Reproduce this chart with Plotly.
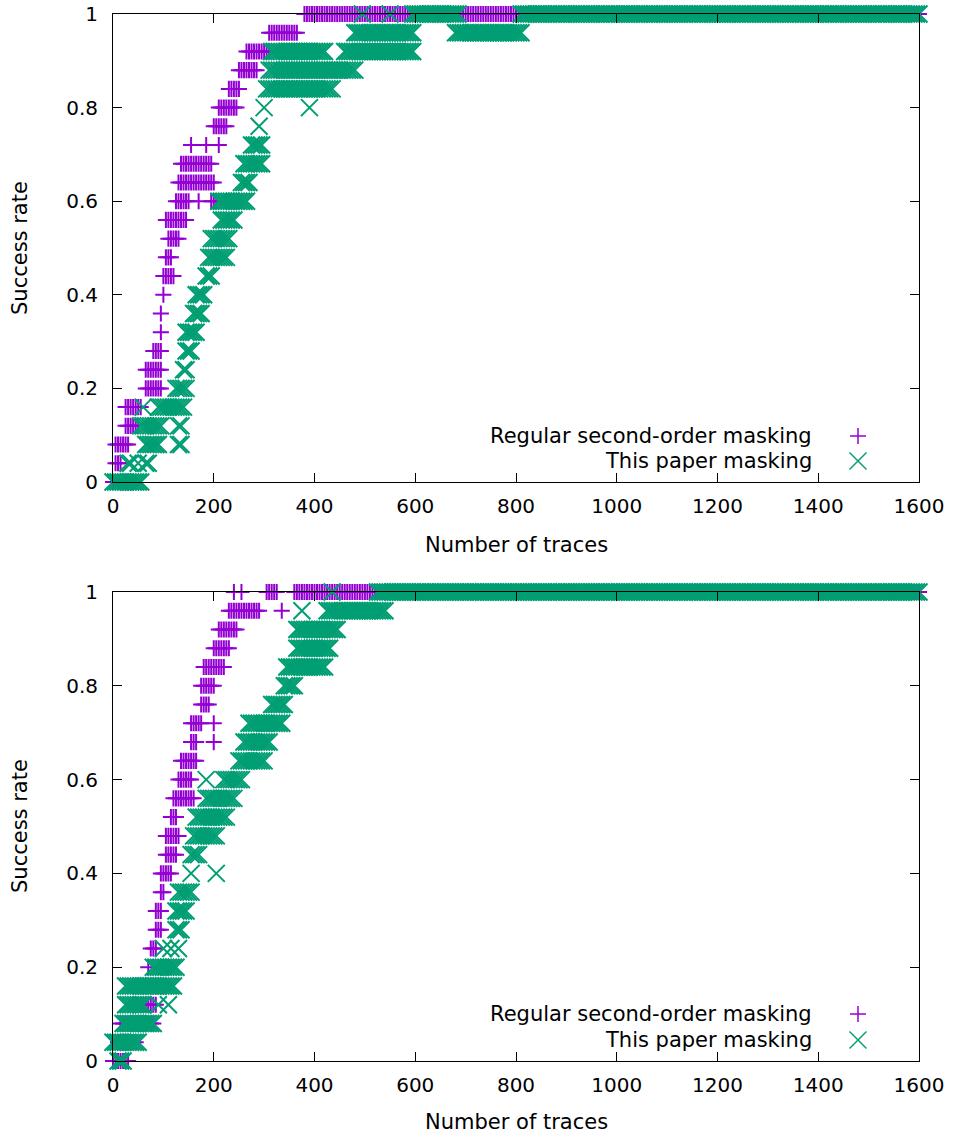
import plotly.graph_objects as go

STEP = 5  # sampling interval (number of traces) between two attack runs

# ---------------- top panel ----------------
# Regular second-order masking: success rate, first / last trace count of each run of points
top_reg_rate = [0.00, 0.04, 0.08, 0.12, 0.16, 0.20, 0.24, 0.28, 0.32, 0.36, 0.40, 0.44, 0.48,
                0.52, 0.56, 0.60, 0.60, 0.60, 0.64, 0.68, 0.72, 0.72, 0.72, 0.76, 0.80, 0.84,
                0.88, 0.92, 0.92, 0.92, 0.96, 1.00]
top_reg_start = [0, 5, 5, 25, 25, 65, 65, 80, 95, 95, 100, 100, 105,
                 110, 105, 125, 170, 195, 130, 135, 155, 185, 210, 200, 210, 230,
                 250, 265, 340, 360, 310, 380]
top_reg_end = [0, 15, 30, 50, 55, 95, 95, 95, 95, 95, 100, 120, 115,
               130, 145, 150, 170, 205, 200, 195, 155, 185, 210, 225, 245, 250,
               285, 310, 340, 360, 365, 1600]

# This paper masking
top_new_rate = [0.00, 0.04, 0.04, 0.04, 0.08, 0.08, 0.12, 0.12, 0.16, 0.16, 0.20, 0.24, 0.28,
                0.32, 0.36, 0.40, 0.44, 0.48, 0.52, 0.56, 0.60, 0.64, 0.68, 0.72, 0.76, 0.80,
                0.80, 0.84, 0.88, 0.92, 0.92, 0.96, 0.96, 1.00, 1.00, 1.00, 1.00]
top_new_start = [0, 30, 50, 65, 65, 130, 55, 130, 60, 90, 125, 140, 145,
                 145, 160, 165, 185, 190, 195, 215, 210, 255, 260, 275, 290, 300,
                 390, 305, 310, 315, 460, 480, 680, 495, 550, 595, 810]
top_new_end = [55, 35, 50, 70, 90, 135, 95, 135, 60, 140, 145, 145, 155,
               165, 175, 180, 195, 225, 230, 240, 265, 270, 295, 295, 290, 300,
               390, 435, 480, 420, 595, 595, 810, 495, 550, 685, 1600]

# ---------------- bottom panel ----------------
bot_reg_rate = [0.00, 0.04, 0.08, 0.12, 0.16, 0.20, 0.24, 0.28, 0.32, 0.36, 0.40, 0.44, 0.48,
                0.52, 0.56, 0.60, 0.64, 0.68, 0.68, 0.72, 0.72, 0.76, 0.80, 0.84, 0.88,
                0.92, 0.96, 0.96, 1.00, 1.00, 1.00, 1.00]
bot_reg_start = [0, 10, 15, 50, 50, 70, 75, 85, 85, 95, 95, 105, 105,
                 115, 120, 130, 135, 155, 200, 155, 200, 175, 175, 180, 200,
                 210, 230, 335, 240, 255, 305, 360]
bot_reg_end = [30, 45, 80, 85, 75, 70, 85, 95, 95, 100, 115, 125, 130,
               125, 160, 155, 165, 165, 200, 175, 200, 190, 200, 220, 230,
               245, 290, 335, 240, 255, 325, 1600]

bot_new_rate = [0.00, 0.04, 0.08, 0.12, 0.12, 0.12, 0.16, 0.20, 0.24, 0.24, 0.24, 0.28, 0.32,
                0.36, 0.40, 0.40, 0.44, 0.48, 0.52, 0.56, 0.60, 0.60, 0.64, 0.68, 0.72,
                0.76, 0.80, 0.84, 0.88, 0.92, 0.96, 0.96, 1.00, 1.00]
bot_new_start = [10, 0, 20, 25, 90, 110, 25, 80, 100, 115, 130, 125, 125,
                 130, 155, 205, 155, 160, 165, 185, 185, 220, 250, 260, 270,
                 315, 340, 345, 365, 365, 375, 425, 435, 525]
bot_new_end = [20, 50, 80, 60, 90, 110, 120, 125, 100, 115, 130, 135, 145,
               155, 155, 205, 170, 205, 225, 240, 185, 255, 300, 310, 335,
               340, 360, 420, 430, 445, 375, 540, 435, 1600]

X_TICKS = [0, 200, 400, 600, 800, 1000, 1200, 1400, 1600]
Y_TICKS = [0, 0.2, 0.4, 0.6, 0.8, 1.0]
Y_TICK_TEXT = ["0", "0.2", "0.4", "0.6", "0.8", "1"]
LEGEND_NAMES = ["Regular second-order masking", "This paper masking"]

PURPLE = "#9400D3"
GREEN = "#009E73"
FONT = "DejaVu Sans"


def expand(rates, starts, ends):
    xs, ys = [], []
    for r, a, b in zip(rates, starts, ends):
        for t in range(a, b + 1, STEP):
            xs.append(t)
            ys.append(r)
    return xs, ys


fig = go.Figure()

panels = [
    ("x", "y", (top_reg_rate, top_reg_start, top_reg_end), (top_new_rate, top_new_start, top_new_end)),
    ("x2", "y2", (bot_reg_rate, bot_reg_start, bot_reg_end), (bot_new_rate, bot_new_start, bot_new_end)),
]

for xa, ya, reg, new in panels:
    xr, yr = expand(*reg)
    fig.add_trace(go.Scatter(
        x=xr, y=yr, mode="markers", xaxis=xa, yaxis=ya, name=LEGEND_NAMES[0],
        showlegend=False, cliponaxis=False,
        marker=dict(symbol="cross-thin", size=11.5, color=PURPLE,
                    line=dict(color=PURPLE, width=2)),
    ))
    xn, yn = expand(*new)
    fig.add_trace(go.Scatter(
        x=xn, y=yn, mode="markers", xaxis=xa, yaxis=ya, name=LEGEND_NAMES[1],
        showlegend=False, cliponaxis=False,
        marker=dict(symbol="x-thin", size=17, color=GREEN,
                    line=dict(color=GREEN, width=2)),
    ))

# The page body margin is removed (see post_script), so page pixels = figure pixels.
W, H = 954, 1139
L, R, T, B = 113, 954 - 919, 14, 1139 - 1061
PW, PH = W - L - R, H - T - B


def py2paper(py):
    return (H - B - py) / PH


def px2paper(px):
    return (px - L) / PW


axis_common = dict(
    showgrid=False, zeroline=False, showline=True, linecolor="black", linewidth=1,
    mirror="ticks", ticks="inside", ticklen=9, tickwidth=1, tickcolor="black",
    automargin=False, ticklabeloverflow="allow",
    tickfont=dict(family=FONT, size=20, color="black"),
)

top_dom = [py2paper(482), py2paper(14)]
bot_dom = [py2paper(1061), py2paper(592)]

fig.update_layout(
    width=W, height=H,
    margin=dict(l=L, r=R, t=T, b=B, autoexpand=False),
    paper_bgcolor="white", plot_bgcolor="white",
    showlegend=False,
    xaxis=dict(domain=[0, 1], range=[0, 1600], tickvals=X_TICKS, anchor="y",
               ticklabelstandoff=6, **axis_common),
    yaxis=dict(domain=top_dom, range=[0, 1], tickvals=Y_TICKS, ticktext=Y_TICK_TEXT,
               anchor="x", ticklabelstandoff=10, **axis_common),
    xaxis2=dict(domain=[0, 1], range=[0, 1600], tickvals=X_TICKS, anchor="y2",
                ticklabelstandoff=6, **axis_common),
    yaxis2=dict(domain=bot_dom, range=[0, 1], tickvals=Y_TICKS, ticktext=Y_TICK_TEXT,
                anchor="x2", ticklabelstandoff=10, **axis_common),
)

LABEL_FONT = dict(family=FONT, size=21, color="black")

annotations = []
shapes = []
for (ylab_py, xlab_py, leg_py) in [(248, 545, (436, 461)), (826, 1122, (1014, 1040))]:
    annotations.append(dict(text="Success rate", xref="paper", yref="paper",
                            x=px2paper(20), y=py2paper(ylab_py), textangle=-90,
                            xanchor="center", yanchor="middle", showarrow=False,
                            font=LABEL_FONT))
    annotations.append(dict(text="Number of traces", xref="paper", yref="paper",
                            x=px2paper(516), y=py2paper(xlab_py),
                            xanchor="center", yanchor="middle", showarrow=False,
                            font=LABEL_FONT))
    for name, lpy in zip(LEGEND_NAMES, leg_py):
        annotations.append(dict(text=name, xref="paper", yref="paper",
                                x=px2paper(814), y=py2paper(lpy),
                                xanchor="right", yanchor="middle", showarrow=False,
                                font=LABEL_FONT))
    # legend samples
    ax, ay = px2paper(858), py2paper(leg_py[0])
    shapes.append(dict(type="line", xref="paper", yref="paper", xsizemode="pixel", ysizemode="pixel",
                       xanchor=ax, yanchor=ay, x0=-8, x1=8, y0=0, y1=0,
                       line=dict(color=PURPLE, width=1.5)))
    shapes.append(dict(type="line", xref="paper", yref="paper", xsizemode="pixel", ysizemode="pixel",
                       xanchor=ax, yanchor=ay, x0=0, x1=0, y0=-8, y1=8,
                       line=dict(color=PURPLE, width=1.5)))
    bx, by = px2paper(858), py2paper(leg_py[1])
    shapes.append(dict(type="line", xref="paper", yref="paper", xsizemode="pixel", ysizemode="pixel",
                       xanchor=bx, yanchor=by, x0=-8.5, x1=8.5, y0=-8.5, y1=8.5,
                       line=dict(color=GREEN, width=1.5)))
    shapes.append(dict(type="line", xref="paper", yref="paper", xsizemode="pixel", ysizemode="pixel",
                       xanchor=bx, yanchor=by, x0=-8.5, x1=8.5, y0=8.5, y1=-8.5,
                       line=dict(color=GREEN, width=1.5)))

fig.update_layout(annotations=annotations, shapes=shapes)

fig.write_html("out.html",
               config={"displayModeBar": False},
               post_script="document.body.style.margin='0px';document.body.style.overflow='hidden';")
